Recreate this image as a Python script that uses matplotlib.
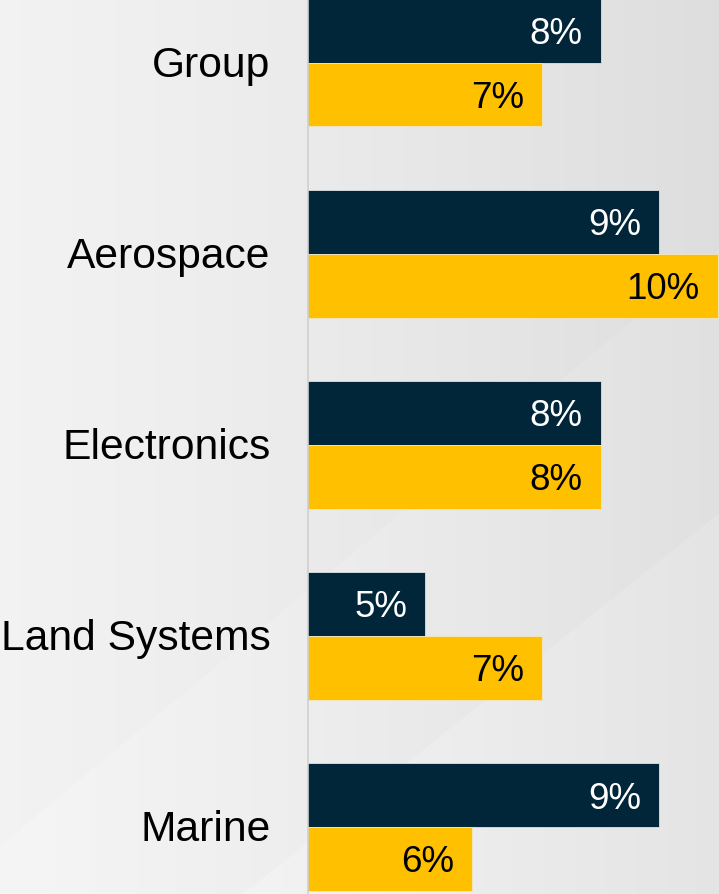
import numpy as np
import matplotlib.pyplot as plt

plt.rcParams['font.family'] = ['Liberation Sans', 'DejaVu Sans']

# data
categories = ["Group", "Aerospace", "Electronics", "Land Systems", "Marine"]
navy_vals = [8.0, 9.0, 8.0, 5.0, 9.0]
yellow_vals = [7.0, 10.0, 8.0, 7.0, 5.8]
navy_labels = ["8%", "9%", "8%", "5%", "9%"]
yellow_labels = ["7%", "10%", "8%", "7%", "6%"]

NAVY = "#012639"
YELLOW = "#FFC000"

W, H = 719, 895
fig = plt.figure(figsize=(W / 100, H / 100), dpi=100)

# soft grey gradient background with faint lighter diagonal sweeps
bg = fig.add_axes([0, 0, 1, 1])
xx, yy = np.meshgrid(np.linspace(0, W, W), np.linspace(0, H, H))
shade = 0.95 - 0.08 * (xx / W) ** 1.2
shade = np.where(yy > 1090 - 0.8 * xx, shade + 0.015, shade)
shade = np.where(yy > 847 - 0.83 * xx, shade + 0.01, shade)
shade = np.clip(shade, 0, 1)
bg.imshow(np.dstack([shade, shade, shade]), aspect='auto', extent=[0, W, H, 0])
bg.set_axis_off()

# bar axes: left edge at the thin grey axis line, range starts at 3%
ax = fig.add_axes([308 / W, 0, (W - 308) / W, 1])
ax.patch.set_alpha(0)
px_per_unit = 58.5
bar_px = 63.7
ax.set_xlim(3, 3 + (W - 308) / px_per_unit)
ax.set_ylim(H / bar_px - 1, -1)

centers = np.arange(len(categories)) * 3.0
ax.barh(centers - 0.5, navy_vals, height=1.0, color=NAVY,
        edgecolor="#dde3e8", linewidth=0.6)
ax.barh(centers + 0.5, yellow_vals, height=1.0, color=YELLOW,
        edgecolor="#f0e6c8", linewidth=0.6)

for c, v, t in zip(centers, navy_vals, navy_labels):
    ax.annotate(t, (v, c - 0.5), xytext=(-13, -2), textcoords='offset points',
                ha='right', va='center', fontsize=26.5, color='white')
for c, v, t in zip(centers, yellow_vals, yellow_labels):
    ax.annotate(t, (v, c + 0.5), xytext=(-13, -2), textcoords='offset points',
                ha='right', va='center', fontsize=26.5, color='black')

ax.set_yticks(centers - 0.04)
ax.set_yticklabels(categories, fontsize=30.7)
ax.tick_params(axis='y', length=0, pad=27)
ax.set_xticks([])
for side in ['top', 'right', 'bottom']:
    ax.spines[side].set_visible(False)
ax.spines['left'].set_color('#cfcfcf')
ax.spines['left'].set_linewidth(1.2)

fig.savefig("out.png", dpi=100)
